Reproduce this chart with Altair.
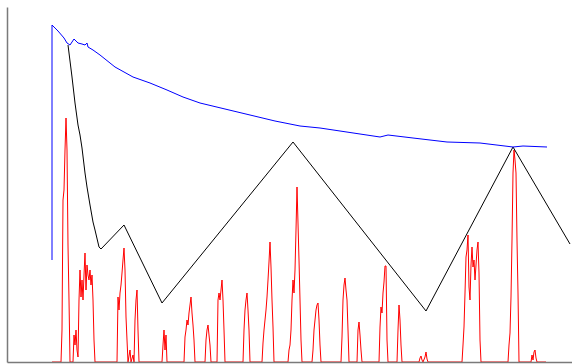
import altair as alt
import pandas as pd

# Decaying trend (blue)
blue_x = [45, 45, 51, 57, 60, 63, 65, 67, 69, 71, 75, 78, 80, 81, 86, 93, 108, 126, 143,
          160, 176, 193, 218, 243, 268, 293, 313, 333, 353, 373, 381, 406, 440, 473, 506,
          516, 540]
blue_y = [102, 337, 331, 324, 319, 317, 320, 323, 321, 319, 318, 317, 319, 315, 312, 307,
          295, 285, 279, 272, 265, 259, 253, 247, 241, 236, 234, 231, 228, 225, 227, 224,
          220, 219, 215, 216, 215]

# Piecewise envelope (black)
black_x = [61, 65, 68, 71, 73, 75, 78, 80, 83, 86, 88, 92, 94, 117, 155, 286, 419, 506, 563]
black_y = [317, 285, 259, 237, 227, 214, 189, 175, 157, 140, 132, 115, 113, 137, 59, 220,
           51, 215, 118]

# Burst activity (red)
red_x = [45,
         54, 55, 56, 57, 58, 59, 60, 61, 62, 63,
         66, 67, 68, 69, 70, 71, 72, 73, 74, 75, 76, 77, 78, 79, 80, 81, 82, 83, 84, 85, 86, 87, 88,
         110, 111, 112, 113, 114, 115, 116, 117, 118, 119, 120, 121, 123, 124, 126, 127,
         128, 129, 130, 131, 132,
         155, 156, 157, 158, 159, 160,
         177, 178, 179, 180, 181, 182, 183, 184, 185, 186, 187, 188,
         198, 199, 200, 201, 202, 203, 204,
         210, 211, 212, 213, 214, 215, 216, 217, 218,
         236, 237, 238, 239, 240, 241, 242, 243,
         255, 256, 257, 258, 259, 260, 261, 262, 263, 264, 265, 266, 267,
         281, 282, 283, 284, 285, 286, 287, 288, 289, 290, 291, 292, 293, 294, 295,
         305, 306, 307, 308, 309, 310, 311, 312, 313, 314,
         334, 335, 336, 337, 338, 339, 340, 341, 342,
         350, 351, 352, 353, 354, 355,
         372, 373, 374, 375, 376, 377, 378, 379, 380, 381,
         390, 391, 392, 393, 394, 395,
         412, 413, 414, 415, 416, 418, 419, 420, 421,
         455, 456, 457, 458, 459, 460, 461, 462, 463, 464, 465, 466, 467, 468, 469, 470, 471,
         472, 473, 474,
         501, 502, 503, 504, 505, 506, 507, 508, 509, 510, 511, 512,
         524, 525, 526, 527, 528, 529, 530,
         539]
red_y = [0,
         0, 32, 162, 172, 212, 244, 212, 117, 62, 0,
         0, 27, 17, 32, 12, 5, 62, 92, 65, 82, 62, 87, 109, 72, 97, 87, 82, 92, 77, 87, 62, 22, 0,
         0, 65, 52, 69, 77, 89, 102, 114, 92, 45, 22, 0, 12, 0, 7, 0,
         42, 62, 72, 32, 0,
         0, 17, 32, 12, 27, 0,
         0, 25, 32, 42, 37, 49, 57, 65, 49, 37, 22, 0,
         0, 22, 32, 37, 27, 17, 0,
         0, 62, 69, 62, 72, 82, 62, 32, 0,
         0, 32, 52, 62, 69, 52, 32, 0,
         0, 19, 32, 42, 52, 65, 82, 100, 120, 95, 62, 35, 0,
         0, 12, 17, 32, 62, 82, 69, 92, 132, 175, 139, 102, 62, 22, 0,
         0, 12, 32, 42, 52, 57, 59, 42, 17, 0,
         0, 25, 62, 77, 84, 72, 62, 32, 0,
         0, 32, 40, 27, 12, 0,
         0, 35, 55, 49, 69, 80, 96, 96, 22, 0,
         0, 32, 57, 42, 17, 0,
         0, 4, 6, 2, 0, 5, 10, 3, 0,
         0, 17, 35, 69, 105, 112, 127, 75, 62, 97, 115, 95, 102, 82, 97, 112, 120,
         89, 22, 0,
         0, 17, 29, 65, 122, 189, 212, 202, 189, 122, 69, 0,
         0, 7, 2, 10, 12, 4, 0,
         0]


def frame(xs, ys):
    return pd.DataFrame({"x": xs, "y": ys, "i": list(range(len(xs)))})


x_scale = alt.Scale(domain=[0, 565], nice=False, zero=False)
y_scale = alt.Scale(domain=[0, 355], nice=False, zero=False)
x_axis = alt.Axis(labels=False, ticks=False, grid=False, title=None,
                  domainColor="#7a7a7a", domainWidth=1.5, zindex=1)
y_axis = alt.Axis(labels=False, ticks=False, grid=False, title=None,
                  domainColor="#7a7a7a", domainWidth=1.5, zindex=1)


def series(xs, ys, color):
    return alt.Chart(frame(xs, ys)).mark_line(
        color=color, strokeWidth=1, interpolate="linear"
    ).encode(
        x=alt.X("x:Q", scale=x_scale, axis=x_axis),
        y=alt.Y("y:Q", scale=y_scale, axis=y_axis),
        order="i:Q",
    )


chart = alt.layer(
    series(red_x, red_y, "#ff0000"),
    series(black_x, black_y, "#000000"),
    series(blue_x, blue_y, "#0000ff"),
).properties(
    width=565,
    height=355,
    autosize="none",
    padding={"left": 7, "top": 7, "right": 0, "bottom": 2},
    background="white",
).configure_view(stroke=None)

chart.save("out.html", embed_options={"renderer": "svg", "actions": False})
